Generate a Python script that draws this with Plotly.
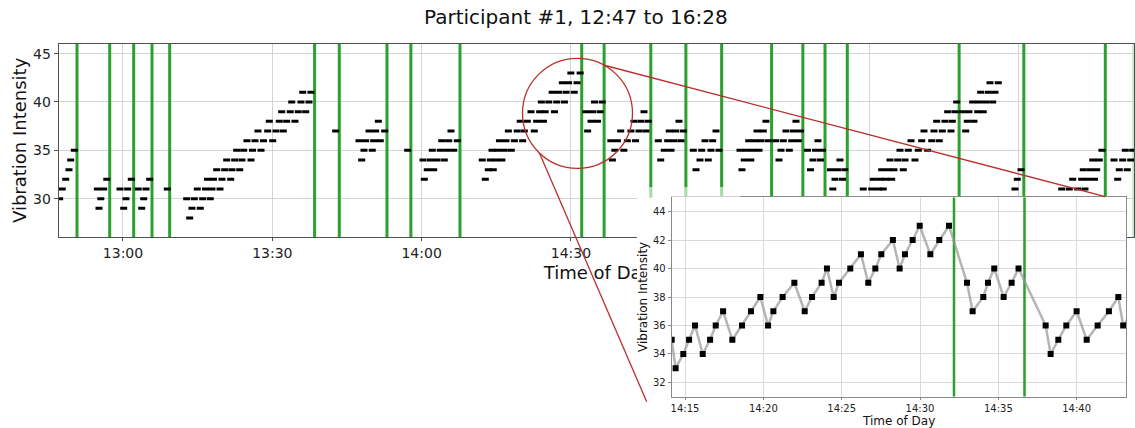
import pandas as pd
import plotly.graph_objects as go

# ---------------- data ----------------
BASE = pd.Timestamp("2000-01-01 13:00:00")   # minutes below are counted from 13:00

minutes = [
    -12.72, -12.20, -11.51, -10.85, -10.51, -9.78,
    -5.16, -4.82, -4.46, -3.88, -3.26,
    -0.60, 0.14, 0.60, 0.94, 1.67,
    3.07, 3.76, 4.16, 4.62, 5.36,
    8.90,
    12.80, 13.40, 13.86, 14.33, 14.93, 15.53, 16.01, 16.58, 16.98, 17.54, 17.88, 18.18,
    18.83, 19.49, 19.89, 20.43, 20.84, 21.64, 21.90, 22.44, 22.84, 23.45, 23.91, 24.25,
    24.91, 25.72, 26.02, 26.52, 27.12, 27.73, 28.23, 29.07, 29.40, 30.08, 30.74, 31.40,
    31.89, 32.21, 32.89, 33.61, 33.90, 34.56, 35.22, 35.76, 36.11, 36.71, 37.37, 37.77,
    42.74,
    47.42, 47.96, 48.42, 48.76, 49.43, 50.09, 50.37, 50.77, 51.30, 51.70, 52.58,
    57.20,
    60.28, 60.54, 61.14, 61.75, 62.15, 62.43, 63.09, 63.75, 64.04, 64.56, 65.10, 65.44,
    65.90, 66.45, 67.17,
    72.19, 72.80, 73.40, 73.80,
    74.15, 74.40, 74.89, 75.26, 75.64, 76.13, 76.60, 76.96, 77.43, 78.02, 78.64, 79.21,
    79.81, 80.30, 80.64, 81.23, 81.98, 82.64, 83.11, 83.72, 84.06, 84.49, 84.83, 85.55,
    86.23, 86.70, 87.15, 87.53, 88.27, 88.70, 89.04, 89.53, 89.98, 90.66, 91.23, 91.85,
    93.00, 93.36, 94.04, 94.34, 94.74, 95.34, 95.85, 96.29,
    98.02, 98.34, 98.83, 99.34, 100.00, 100.64, 101.34, 102.06, 102.66, 102.97,
    103.68, 104.08, 104.68, 105.08, 105.55,
    107.56, 108.04, 108.76, 109.44, 109.76, 110.11, 110.71, 111.05, 111.71, 112.12, 112.58,
    114.59, 115.13, 115.93, 116.28, 116.94, 117.60, 118.14, 118.48, 119.15, 119.75,
    123.97, 124.37, 124.83, 125.27, 125.72, 126.14, 126.54, 126.98, 127.39, 127.79,
    128.19, 128.65, 129.19, 129.66,
    131.14, 131.81, 132.21, 132.67, 133.21, 133.88, 134.36, 134.72, 135.22, 135.68, 136.13,
    137.53, 138.14, 138.64, 139.14, 139.64, 140.14, 140.55,
    142.15, 142.62, 143.06, 143.56, 144.06, 144.57, 145.03,
    148.74, 150.43, 150.75, 151.76, 152.10, 152.44, 152.76, 153.20, 153.77, 154.11,
    154.45, 154.91, 155.66, 156.12, 156.78, 157.12, 157.79, 158.33, 159.13, 159.79,
    160.48, 160.94, 161.68, 162.49, 162.95, 163.49, 164.01, 164.62, 165.16, 165.70,
    166.37, 166.63, 167.17, 167.51,
    168.64, 169.32, 169.64, 169.98, 170.72, 170.98, 171.73, 171.99, 172.33, 172.85,
    173.34, 173.86, 174.20, 174.74, 175.20, 175.87,
    179.22, 179.69, 180.43,
    188.61, 190.14, 190.82, 191.82, 192.63, 192.95, 193.29, 193.83, 194.36, 194.84,
    195.20, 195.64, 196.16, 196.70,
    199.12, 199.86, 200.18, 200.86, 201.39, 201.79, 202.47, 202.87,
]

intensity = [
    30, 31, 32, 33, 34, 35,
    31, 29, 30, 31, 32,
    31, 29, 30, 31, 32,
    31, 29, 30, 31, 32,
    31,
    30, 28, 29, 30, 31, 29, 30, 31, 32, 30, 31, 32,
    33, 31, 32, 33, 34, 32, 33, 34, 35, 33, 34, 35,
    36, 34, 35, 36, 37, 35, 36, 37, 38, 36, 37, 38,
    39, 37, 38, 39, 40, 38, 39, 40, 41, 39, 40, 41,
    37,
    36, 34, 35, 36, 37, 35, 36, 37, 38, 36, 37,
    35,
    34, 32, 33, 34, 35, 33, 34, 35, 36, 34, 35, 36,
    37, 35, 36,
    34, 32, 33, 34,
    35, 33, 34, 35, 36, 34, 35, 36, 37, 35, 36, 37,
    38, 36, 37, 38, 39, 37, 38, 39, 40, 38, 39, 40,
    41, 39, 40, 41, 42, 40, 41, 42, 43, 41, 42, 43,
    39, 37, 38, 39, 40, 38, 39, 40,
    36, 34, 35, 36, 37, 35, 36, 37, 38, 36,
    37, 38, 39, 37, 38,
    36, 34, 35, 36, 37, 35, 36, 37, 38, 36, 37,
    35, 33, 34, 35, 36, 34, 35, 36, 37, 35,
    35, 33, 34, 35, 36, 34, 35, 36, 37, 35,
    36, 37, 38, 36,
    36, 34, 35, 36, 37, 35, 36, 37, 38, 36, 37,
    35, 33, 34, 35, 36, 34, 35,
    33, 31, 32, 33, 34, 32, 33,
    31, 31, 32, 31, 32, 33, 31, 32, 33, 34,
    32, 33, 34, 35, 33, 34, 35, 36, 34, 35,
    36, 37, 35, 36, 37, 38, 36, 37, 38, 39,
    37, 38, 39, 40,
    39, 37, 38, 39, 40, 38, 39, 40, 41, 39,
    40, 41, 42, 40, 41, 42,
    31, 32, 33,
    31, 31, 32, 31, 32, 33, 31, 32, 33, 34,
    32, 33, 34, 35,
    34, 32, 33, 34, 35, 33, 34, 35,
]

event_minutes = [-9.24, -2.67, 2.15, 5.83, 9.38, 38.50, 43.46, 53.04, 57.84, 67.71,
                 92.17, 96.67, 106.05, 113.10, 120.29, 130.32, 136.60, 141.05, 145.53,
                 168.00, 181.00, 197.37]
edge_event_minutes = [203.0]

TITLE = "Participant #1, 12:47 to 16:28"
X_TITLE = "Time of Day"
Y_TITLE = "Vibration Intensity"

main_x_range = ["2000-01-01 12:47:05", "2000-01-01 16:23:13"]
main_y_range = [26, 46]
main_x_ticks = ["2000-01-01 13:00", "2000-01-01 13:30", "2000-01-01 14:00", "2000-01-01 14:30",
                "2000-01-01 15:00", "2000-01-01 15:30", "2000-01-01 16:00"]
main_y_ticks = [30, 35, 40, 45]
inset_x_range = ["2000-01-01 14:14:09", "2000-01-01 14:43:09"]
inset_y_range = [31, 45]
inset_x_ticks = ["2000-01-01 14:15", "2000-01-01 14:20", "2000-01-01 14:25",
                 "2000-01-01 14:30", "2000-01-01 14:35", "2000-01-01 14:40"]
inset_y_ticks = [32, 34, 36, 38, 40, 42, 44]

# ---------------- helpers ----------------
W, H = 1135, 428
def px(x):
    return x / W
def py(y):
    return 1 - y / H

def to_time(mins):
    return [(BASE + pd.Timedelta(minutes=m)).isoformat() for m in mins]

times = to_time(minutes)
events = to_time(event_minutes)
edge_events = to_time(edge_event_minutes)

def vlines(ts, y0, y1):
    xs, ys = [], []
    for t in ts:
        xs += [t, t, None]
        ys += [y0, y1, None]
    return xs, ys

GREEN = "#2ca02c"
RED = "#b8302c"
FONT = "DejaVu Sans"

MAIN_L, MAIN_R, MAIN_T, MAIN_B = 58.7, 1134.4, 44.0, 237.3
INS_L, INS_R, INS_T, INS_B = 671.7, 1126.0, 197.3, 396.7
COVER_L = 637.0

fig = go.Figure()

# main: event lines
ex, ey = vlines(events, main_y_range[0], main_y_range[1])
fig.add_trace(go.Scatter(x=ex, y=ey, mode="lines", line=dict(color=GREEN, width=3),
                         xaxis="x", yaxis="y", hoverinfo="skip"))
ex2, ey2 = vlines(edge_events, main_y_range[0], main_y_range[1])
fig.add_trace(go.Scatter(x=ex2, y=ey2, mode="lines", line=dict(color="#c4e6c4", width=2),
                         xaxis="x", yaxis="y", hoverinfo="skip"))
# main: readings as short dashes
fig.add_trace(go.Scatter(x=times, y=intensity, mode="markers",
                         marker=dict(symbol="line-ew", size=5,
                                     line=dict(color="black", width=3)),
                         xaxis="x", yaxis="y", hoverinfo="skip"))

# main x-axis title, in its own (invisible) subplot so that the inset can cover it
fig.add_trace(go.Scatter(x=[0.5], y=[0.5], mode="text", text=[X_TITLE],
                         textfont=dict(family=FONT, size=18, color="#111"),
                         textposition="middle center", cliponaxis=False,
                         xaxis="x2", yaxis="y2", hoverinfo="skip"))

# white cover behind the inset (its own subplot background)
fig.add_trace(go.Scatter(x=[], y=[], xaxis="x3", yaxis="y3", hoverinfo="skip"))

# inset
ix, iy = vlines(events, inset_y_range[0], inset_y_range[1])
fig.add_trace(go.Scatter(x=ix, y=iy, mode="lines", line=dict(color=GREEN, width=2.5),
                         xaxis="x4", yaxis="y4", hoverinfo="skip"))
fig.add_trace(go.Scatter(x=times, y=intensity, mode="lines+markers",
                         line=dict(color="rgba(150,150,150,0.7)", width=2.5),
                         marker=dict(symbol="square", size=6, color="black"),
                         xaxis="x4", yaxis="y4", hoverinfo="skip"))

axis_common = dict(showgrid=True, zeroline=False, showline=True, mirror=True,
                   ticks="outside", automargin=False)

fig.update_layout(
    width=W, height=H,
    margin=dict(l=0, r=0, t=0, b=0, pad=0),
    paper_bgcolor="white", plot_bgcolor="white",
    template="none",
    showlegend=False, hovermode=False,
    font=dict(family=FONT, color="#222"),
    xaxis=dict(axis_common, domain=[px(MAIN_L), px(MAIN_R)], anchor="y", type="date",
               range=main_x_range, tickvals=main_x_ticks, tickformat="%H:%M",
               gridcolor="#d4d4d4", gridwidth=1, linecolor="#505050", linewidth=1,
               ticklen=3, tickcolor="#505050", tickfont=dict(size=14, color="#222")),
    yaxis=dict(axis_common, domain=[py(MAIN_B), py(MAIN_T)], anchor="x",
               range=main_y_range, tickvals=main_y_ticks,
               gridcolor="#d4d4d4", gridwidth=1, linecolor="#505050", linewidth=1,
               ticklen=4, tickcolor="#505050", tickfont=dict(size=14, color="#222")),
    xaxis2=dict(domain=[px(498), px(698)], anchor="y2", visible=False, range=[0, 1]),
    yaxis2=dict(domain=[py(296), py(252)], anchor="x2", visible=False, range=[0, 1]),
    xaxis3=dict(domain=[px(COVER_L), px(INS_R)], anchor="y3", visible=False, range=[0, 1]),
    yaxis3=dict(domain=[0, py(INS_T)], anchor="x3", visible=False, range=[0, 1]),
    xaxis4=dict(axis_common, domain=[px(INS_L), px(INS_R)], anchor="y4", type="date",
                range=inset_x_range, tickvals=inset_x_ticks, tickformat="%H:%M",
                gridcolor="#d9d9d9", gridwidth=1, linecolor="#8a8a8a", linewidth=1,
                ticklen=2, tickcolor="#8a8a8a", tickfont=dict(size=10, color="#222")),
    yaxis4=dict(axis_common, domain=[py(INS_B), py(INS_T)], anchor="x4",
                range=inset_y_range, tickvals=inset_y_ticks,
                gridcolor="#d9d9d9", gridwidth=1, linecolor="#8a8a8a", linewidth=1,
                ticklen=3, tickcolor="#8a8a8a", tickfont=dict(size=10, color="#222")),
    annotations=[
        dict(text=TITLE, x=px(576), y=py(17), xref="paper", yref="paper",
             showarrow=False, xanchor="center", yanchor="middle",
             font=dict(size=20, color="#111")),
        dict(text=Y_TITLE, x=px(20), y=py(140), xref="paper", yref="paper",
             showarrow=False, xanchor="center", yanchor="middle", textangle=-90,
             font=dict(size=18, color="#111")),
        dict(text=X_TITLE, x=px(898), y=py(421), xref="paper", yref="paper",
             showarrow=False, xanchor="center", yanchor="middle",
             font=dict(size=12, color="#111")),
        dict(text=Y_TITLE, x=px(643), y=py(297), xref="paper", yref="paper",
             showarrow=False, xanchor="center", yanchor="middle", textangle=-90,
             font=dict(size=12, color="#111")),
    ],
    shapes=[
        dict(type="rect", xref="paper", yref="paper", layer="above",
             x0=px(COVER_L), x1=px(740), y0=py(197), y1=py(187),
             fillcolor="rgba(255,255,255,0.6)", line=dict(width=0)),
        dict(type="circle", xref="paper", yref="paper", layer="above",
             x0=px(577.5 - 55), x1=px(577.5 + 55), y0=py(113.3 + 55), y1=py(113.3 - 55),
             line=dict(color=RED, width=1.3)),
        dict(type="line", xref="paper", yref="paper", layer="above",
             x0=px(603.3), y0=py(65), x1=px(1105.3), y1=py(196.7),
             line=dict(color=RED, width=1.3)),
        dict(type="line", xref="paper", yref="paper", layer="above",
             x0=px(539.3), y0=py(152.7), x1=px(646.7), y1=py(401.7),
             line=dict(color=RED, width=1.3)),
    ],
)

fig.write_html("out.html")
